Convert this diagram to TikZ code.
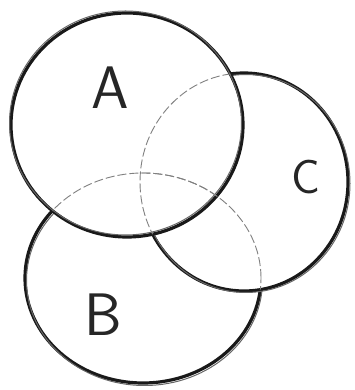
\documentclass[tikz,border=0pt]{standalone}
\usepackage{tikz}
\usetikzlibrary{calc}

\begin{document}
\begin{tikzpicture}[x=1pt, y=1pt,
    ring/.style={line width=3.2pt, black!90},
    sketch/.style={line width=1pt, black!60},
    hidden/.style={line width=0.9pt, black!50, dash pattern=on 9pt off 3pt},
    lbl/.style={font=\fontsize{60}{66}\selectfont\sffamily, black!85},
    radA/.style={x radius=116, y radius=112},
    radB/.style={x radius=118, y radius=105},
    radC/.style={x radius=104, y radius=109}
  ]
  \useasboundingbox (0,0) rectangle (355,390);

  % --- centres of the sets ---
  \coordinate (ca) at (127,265);
  \coordinate (cb) at (143,112);
  \coordinate (cc) at (244,208);

  % --- B, lowest ---
  \draw[ring] (cb) ellipse [radB];
  \draw[sketch] ($(cb)+(1.5,-2.5)$) ellipse [radB];

  % --- C, over B ---
  \fill[white] (cc) ellipse [radC];
  \draw[ring] (cc) ellipse [radC];
  \draw[sketch] ($(cc)+(2,-1.5)$) ellipse [radC];

  % --- A, on top ---
  \fill[white] (ca) ellipse [radA];
  \draw[ring] (ca) ellipse [radA];
  \draw[sketch] ($(ca)+(-1.5,2)$) ellipse [radA];

  % --- hidden parts, thin ---
  \begin{scope}
    \clip (ca) ellipse [radA];
    \draw[hidden] (cb) ellipse [radB];
    \draw[hidden] (cc) ellipse [radC];
  \end{scope}
  \begin{scope}
    \clip (cc) ellipse [radC];
    \draw[hidden] (cb) ellipse [radB];
  \end{scope}

  % labels
  \node[lbl] (la) at (110,302) {A};
  \node[lbl] (lb) at (103,75) {B};
  \node[lbl, font=\fontsize{48}{54}\selectfont\sffamily] (lc) at (306,213) {C};
\end{tikzpicture}
\end{document}
